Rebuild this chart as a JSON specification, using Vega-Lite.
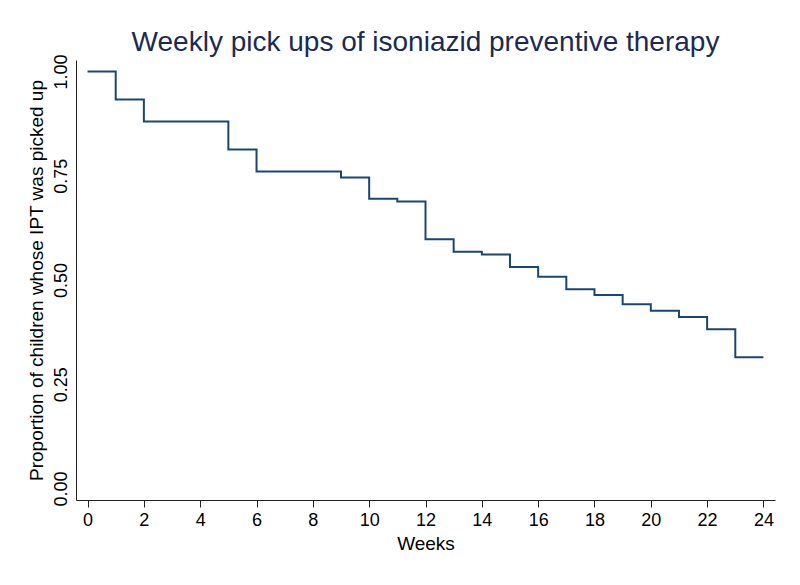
{
  "$schema": "https://vega.github.io/schema/vega-lite/v6.json",
  "width": 699,
  "height": 440,
  "autosize": {"type": "none"},
  "padding": {"left": 76, "top": 60, "right": 25, "bottom": 85},
  "background": "white",
  "title": {
    "text": "Weekly pick ups of isoniazid preventive therapy",
    "fontSize": 28,
    "font": "Liberation Sans",
    "fontWeight": "normal",
    "color": "#1c2a52",
    "anchor": "middle",
    "frame": "group",
    "baseline": "bottom",
    "offset": -31
  },
  "config": {
    "view": {"stroke": null},
    "font": "Liberation Sans"
  },
  "data": {
    "values": [
      {"week": 0, "prop": 1.0},
      {"week": 1, "prop": 0.933},
      {"week": 2, "prop": 0.880},
      {"week": 3, "prop": 0.880},
      {"week": 4, "prop": 0.880},
      {"week": 5, "prop": 0.813},
      {"week": 6, "prop": 0.760},
      {"week": 7, "prop": 0.760},
      {"week": 8, "prop": 0.760},
      {"week": 9, "prop": 0.746},
      {"week": 10, "prop": 0.695},
      {"week": 11, "prop": 0.688},
      {"week": 12, "prop": 0.598},
      {"week": 13, "prop": 0.568},
      {"week": 14, "prop": 0.561},
      {"week": 15, "prop": 0.531},
      {"week": 16, "prop": 0.508},
      {"week": 17, "prop": 0.478},
      {"week": 18, "prop": 0.464},
      {"week": 19, "prop": 0.442},
      {"week": 20, "prop": 0.426},
      {"week": 21, "prop": 0.411},
      {"week": 22, "prop": 0.382},
      {"week": 23, "prop": 0.315},
      {"week": 24, "prop": 0.315}
    ]
  },
  "mark": {"type": "line", "interpolate": "step-after", "color": "#1a476f", "strokeWidth": 2},
  "encoding": {
    "x": {
      "field": "week",
      "type": "quantitative",
      "scale": {"domain": [-0.41, 24.41], "nice": false, "zero": false},
      "axis": {
        "title": "Weeks",
        "values": [0, 2, 4, 6, 8, 10, 12, 14, 16, 18, 20, 22, 24],
        "grid": false,
        "domainColor": "#222222",
        "tickColor": "#222222",
        "tickSize": 7,
        "labelFontSize": 18,
        "labelColor": "#000000",
        "labelPadding": 4,
        "titleFontSize": 19,
        "titleFontWeight": "normal",
        "titleColor": "#000000",
        "titlePadding": 5
      }
    },
    "y": {
      "field": "prop",
      "type": "quantitative",
      "scale": {"domain": [-0.0276, 1.0276], "nice": false, "zero": false},
      "axis": {
        "title": "Proportion of children whose IPT was picked up",
        "values": [0, 0.25, 0.5, 0.75, 1],
        "format": ".2f",
        "grid": false,
        "ticks": false,
        "domainColor": "#222222",
        "labelAngle": 270,
        "labelAlign": "center",
        "labelBaseline": "bottom",
        "labelFontSize": 18,
        "labelColor": "#000000",
        "labelPadding": 6,
        "titleFontSize": 19,
        "titleFontWeight": "normal",
        "titleColor": "#000000",
        "titlePadding": 6
      }
    }
  }
}
